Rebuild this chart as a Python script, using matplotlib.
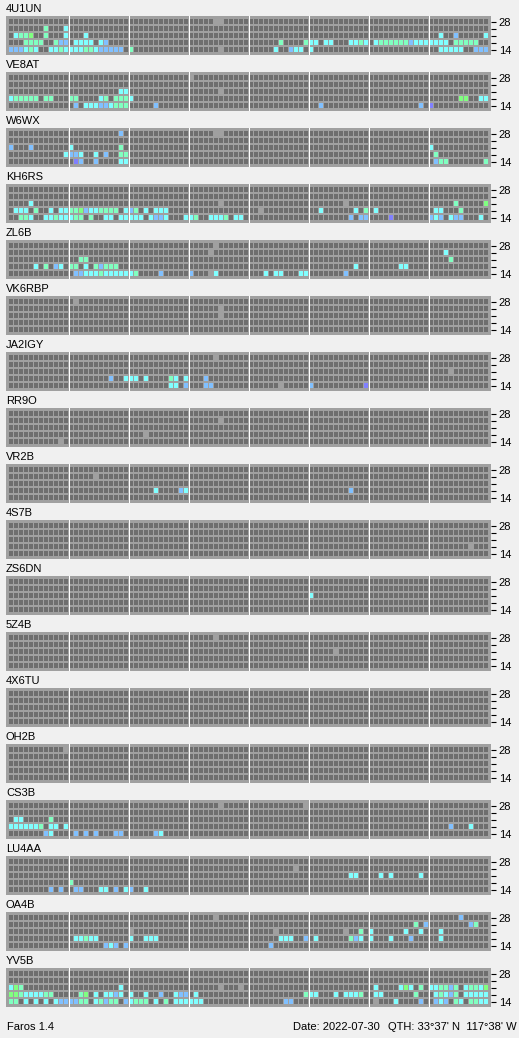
import numpy as np
import matplotlib
matplotlib.use('Agg')
import matplotlib.pyplot as plt

# beacon callsigns, top to bottom
stations = ['4U1UN', 'VE8AT', 'W6WX', 'KH6RS', 'ZL6B', 'VK6RBP', 'JA2IGY', 'RR9O', 'VR2B',
            '4S7B', 'ZS6DN', '5Z4B', '4X6TU', 'OH2B', 'CS3B', 'LU4AA', 'OA4B', 'YV5B']
band_labels = ['28', '', '', '', '14']   # rows: 28, 24, 21, 18, 14 MHz
n_slots = 96                              # 15 min slots over 24 h

footer_left = 'Faros 1.4'
footer_date = 'Date: 2022-07-30'
footer_qth = "QTH: 33°37' N  117°38' W"

# cell codes: . not heard, g no data, c/m/b/G/p signal levels
palette = {'.': '#6e6e6e', 'g': '#a0a0a0', 'c': '#80ffff', 'm': '#80ffc0',
           'b': '#80c0ff', 'G': '#80ff80', 'p': '#8080ff'}

# each station: 5 rows (28 -> 14), tokens "<slot><code>"
spots_4U1UN = ["41g 42g",
               "7m 11c",
               "1c 2m 3m 4G 7m 11c 15c 86c 89b 95c",
               "3m 4m 5m 6m 9m 10b 11b 13c 14c 15c 16c 18c 19b 54m 59m 60c 61c 63c 64c 68c 69c 70m 71c "
               "73c 74m 75m 76m 77m 78m 79m 80b 81c 82c 83c 84c 85c 86c 87c 89m 90m 91m 92m 93m",
               "0b 1b 2b 3c 4m 5c 8c 9c 10m 11c 12c 13c 14c 15m 16m 17c 18b 19b 20b 21b 22b 24m 42g "
               "53c 56b 57c 58c 60c 86c 87c 88c 89c 90c 93b 94b 95b"]
spots_VE8AT = ["36g",
               "",
               "22c 23c 42g",
               "0c 1m 2m 3m 4m 5m 7m 8m 12m 13m 18c 19m 21m 22m 23m 24c 90G 91G 94c 95c",
               "13b 15c 16c 17c 18b 19b 20c 21m 22m 23m 29b 62b 82b 84p"]
spots_W6WX = ["22b 41g 42g",
              "",
              "0b 4b 12c 22m 84c",
              "11c 12b 13b 14c 17c 19b 22m 23m 85m",
              "13p 14b 17b 22c 23c 85b 86m 87m 95m"]
spots_KH6RS = ["",
               "",
               "4c 42g 67g 89m 95G",
               "1c 2c 3c 5m 8c 10c 11c 12m 13m 14G 15b 16c 17c 18m 19m 20m 21m 23c 24b 25m 27c 29c "
               "30c 31c 50g 62c 69c 71m 73c 85c 86c 90m",
               "2m 3m 4c 7c 8c 9m 10c 11c 12c 13m 14m 16m 19c 20c 22c 23c 24c 25c 26c 28c 29b 30b 31c "
               "35c 36c 37m 40c 41c 42c 43m 45c 46c 68b 70b 71b 76p 84b 85c 86b 88c 89b 90b 94c"]
spots_ZL6B = ["41g",
              "40g 87c",
              "14m 15m 88m",
              "5c 7m 9b 10c 12m 13m 15c 17m 18b 19m 20m 21m 69c 78c 79c",
              "13b 14b 15c 16c 17c 18m 19c 20c 21c 22c 23c 24c 25m 30b 36b 40g 41c 51c 53c 54c 58c "
              "59c 67b"]
spots_VK6RBP = ["13g", "42g", "42g", "", ""]
spots_JA2IGY = ["41g",
                "",
                "88g",
                "20b 23c 24c 25c 27c 32m 33c 35c 39b",
                "32c 33c 35b 39b 40b 54g 60b 71p"]
spots_RR9O = ["", "42g", "", "27g", "10g"]
spots_VR2B = ["", "17g", "", "29c 34b 35c 68b", ""]
spots_4S7B = ["", "", "", "92g", ""]
spots_ZS6DN = ["", "", "60c", "", ""]
spots_5Z4B = ["41g", "", "65g", "", ""]
spots_4X6TU = ["", "", "", "", ""]
spots_OH2B = ["11g", "", "", "", ""]
spots_CS3B = ["42g 59g",
              "",
              "1c 2c 8m",
              "0c 1c 2c 3c 4c 5c 6m 8c 9c 11c 88b 92c",
              "7b 8c 13b 15b 17b 21b 22b 29b 30c"]
spots_LU4AA = ["",
               "57g",
               "68c 69c 74c 76c 82c",
               "12m",
               "8b 10b 13b 14b 18c 19c 21b 23c 24b 27c"]
spots_OA4B = ["41g 90b",
              "81m 83b 92b 93m",
              "24g 53g 67g 70m 72c 79c 82c 86c",
              "13c 14c 15m 16c 17c 24c 27c 28c 29c 54c 55c 56c 59b 61c 68m 69b 70c 72c 76c 80b 86c",
              "19b 20c 21b 23b 52b"]
spots_YV5B = ["",
              "",
              "0c 1G 2m 22c 42g 46g 73c 78c 79G 80c 82m 84c 85c 86m 87m 88b 89m 91c 92m 93m 94c 95G",
              "0G 1G 2m 3c 4c 5c 6c 7m 8m 14m 15G 17c 19c 20c 21b 22c 24c 27c 30b 33c 34b 35b 37c "
              "59m 60c 61c 65c 67c 68c 69c 70m 73c 74c 81m 85c 86m 87c 88b 89m 91c 92c 93c 94c 95c",
              "0m 1m 3c 5c 7c 9c 10b 11b 12b 13b 14m 15m 17c 18m 19b 20m 21m 23b 24c 25m 26m 27m 29c "
              "31m 33c 34c 35c 36c 37c 38c 55b 56b 73g 77c 82b 85b 86c 87b 89m 90c 92m 93m 94c 95c"]

spots = [spots_4U1UN, spots_VE8AT, spots_W6WX, spots_KH6RS, spots_ZL6B, spots_VK6RBP,
         spots_JA2IGY, spots_RR9O, spots_VR2B, spots_4S7B, spots_ZS6DN, spots_5Z4B,
         spots_4X6TU, spots_OH2B, spots_CS3B, spots_LU4AA, spots_OA4B, spots_YV5B]

plt.rcParams['font.family'] = ['Liberation Sans', 'DejaVu Sans']

W, H = 519, 1038
fig = plt.figure(figsize=(W / 100, H / 100), dpi=100, facecolor='#f0f0f0')

panel_h = 39.3
cols = np.arange(n_slots)
for i, (name, rows) in enumerate(zip(stations, spots)):
    top = 16 + 56 * i
    ax = fig.add_axes([6 / W, 1 - (top + panel_h) / H, 485 / W, panel_h / H])
    ax.set_facecolor('#a0a0a0')

    for r, row in enumerate(rows):
        codes = ['.'] * n_slots
        for tok in row.split():
            codes[int(tok[:-1])] = tok[-1]
        ax.bar(cols, 5 / 7, bottom=r - 2.5 / 7, width=0.8,
               color=[palette[c] for c in codes], linewidth=0, antialiased=False)

    # 3-hour separators
    for s in range(12, n_slots, 12):
        ax.axvline(s - 0.5, color='white', lw=0.75)

    m = (panel_h / 7 - 5) / 2
    ax.set_xlim(-1, n_slots)
    ax.set_ylim(4.5 + m, -0.5 - m)
    ax.set_xticks([])
    ax.set_yticks(range(5))
    ax.set_yticklabels(band_labels)
    ax.yaxis.tick_right()
    ax.tick_params(axis='y', length=3.6, width=0.8, pad=2, labelsize=8)
    for sp in ax.spines.values():
        sp.set_visible(False)

    fig.text(6 / W, 1 - (top - 3.5) / H, name, fontsize=8, va='baseline')

fig.text(7 / W, 1 - 1030 / H, footer_left, fontsize=8, va='baseline')
fig.text(293 / W, 1 - 1030 / H, footer_date, fontsize=8, va='baseline')
fig.text(388 / W, 1 - 1030 / H, footer_qth, fontsize=8, va='baseline')

fig.savefig('out.png', dpi=100, facecolor=fig.get_facecolor())
